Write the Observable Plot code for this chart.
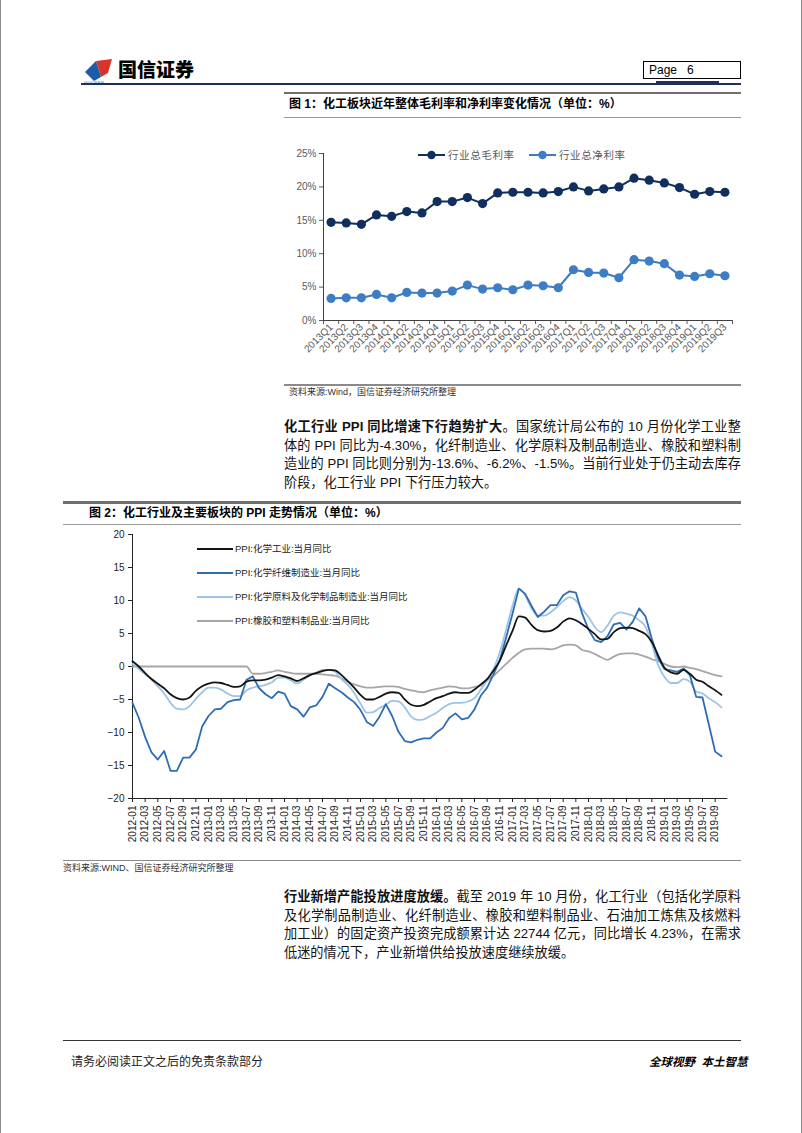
<!DOCTYPE html>
<html><head><meta charset="utf-8">
<script src="https://cdn.jsdelivr.net/npm/d3@7"></script>
<script src="https://cdn.jsdelivr.net/npm/@observablehq/plot@0.6"></script>
<style>
html,body{margin:0;padding:0;background:#fff;}
#page{position:relative;width:802px;height:1133px;overflow:hidden;font-family:"Liberation Sans","Noto Sans CJK SC",sans-serif;color:#000;box-sizing:border-box;border-left:1px solid #8c8c8c;border-right:1px solid #8c8c8c;}
.a{position:absolute;}
.line{position:absolute;height:0;}
.para{position:absolute;left:283px;width:457px;font-size:13.2px;color:#111;}
.para div{white-space:nowrap;text-align:justify;text-align-last:justify;}
.para div.last{text-align:left;text-align-last:left;}
.title{position:absolute;font-size:12px;font-weight:bold;white-space:nowrap;line-height:14px;}
.src{position:absolute;font-size:9px;color:#333;white-space:nowrap;line-height:11px;}
.lg{position:absolute;font-size:9.5px;color:#222;white-space:nowrap;line-height:12px;}
.lgline{position:absolute;height:0;}
</style></head>
<body><div id="page">

<!-- header -->
<svg class="a" style="left:83px;top:58px" width="32" height="26" viewBox="0 0 32 26">
  <polygon points="12,3 28,1 24,15 17,19" fill="#d9342b"/>
  <polygon points="1,14 12,3 17,19 10,23" fill="#1f5aa6"/>
</svg>
<div class="a" style="left:83px;top:80px;font-size:4px;color:#1f5aa6;letter-spacing:0.5px">GUOSEN</div>
<div class="a" style="left:117px;top:60px;font-size:19px;font-weight:900;letter-spacing:0px;line-height:22px">国信证券</div>
<div class="a" style="left:642px;top:61px;width:91px;height:16px;border:1px solid #000;font-size:12px;line-height:16px;padding-left:5px;box-sizing:content-box">Page&nbsp;&nbsp;&nbsp;6</div>
<div class="line" style="left:80px;top:83px;width:660px;border-top:2px solid #1f2f5c"></div>
<div class="line" style="left:655px;top:81px;width:63px;border-top:3px solid #1f2f5c"></div>

<!-- figure 1 -->
<div class="line" style="left:283px;top:92px;width:457px;border-top:2px solid #6f6f6f"></div>
<div class="title" style="left:288px;top:97px">图 1：化工板块近年整体毛利率和净利率变化情况（单位：%）</div>
<div class="line" style="left:283px;top:117px;width:457px;border-top:1px solid #9a9a9a"></div>
<div id="chart1" class="a" style="left:280px;top:140px"></div>
<div id="legend1"></div>
<div class="line" style="left:283px;top:384px;width:457px;border-top:2px solid #8a8a8a"></div>
<div class="src" style="left:288px;top:387px">资料来源:Wind，国信证券经济研究所整理</div>

<div class="para" style="top:418px;line-height:18.6px">
<div><b>化工行业 PPI 同比增速下行趋势扩大</b>。国家统计局公布的 10 月份化学工业整</div>
<div>体的 PPI 同比为-4.30%，化纤制造业、化学原料及制品制造业、橡胶和塑料制</div>
<div>造业的 PPI 同比则分别为-13.6%、-6.2%、-1.5%。当前行业处于仍主动去库存</div>
<div class="last">阶段，化工行业 PPI 下行压力较大。</div>
</div>

<!-- figure 2 -->
<div class="line" style="left:62px;top:501px;width:678px;border-top:3px solid #6f6f6f"></div>
<div class="title" style="left:88px;top:506px">图 2：化工行业及主要板块的 PPI 走势情况（单位：%）</div>
<div class="line" style="left:62px;top:524px;width:678px;border-top:1px solid #9a9a9a"></div>
<div id="chart2" class="a" style="left:62px;top:525px"></div>
<div id="legend2"></div>
<div class="line" style="left:62px;top:860px;width:678px;border-top:1px solid #8a8a8a"></div>
<div class="src" style="left:62px;top:863px">资料来源:WIND、国信证券经济研究所整理</div>

<div class="para" style="top:888px;line-height:18.6px">
<div><b>行业新增产能投放进度放缓。</b>截至 2019 年 10 月份，化工行业（包括化学原料</div>
<div>及化学制品制造业、化纤制造业、橡胶和塑料制品业、石油加工炼焦及核燃料</div>
<div>加工业）的固定资产投资完成额累计达 22744 亿元，同比增长 4.23%，在需求</div>
<div class="last">低迷的情况下，产业新增供给投放速度继续放缓。</div>
</div>

<!-- footer -->
<div class="line" style="left:62px;top:1040px;width:678px;border-top:1px solid #333"></div>
<div class="a" style="left:70px;top:1055px;font-size:12px;color:#222;line-height:14px">请务必阅读正文之后的免责条款部分</div>
<div class="a" style="left:648px;top:1055px;font-size:11.5px;font-weight:bold;font-style:italic;line-height:14px;white-space:nowrap">全球视野&nbsp;&nbsp;本土智慧</div>

</div>
<script>
// ---------- Figure 1 data ----------
const quarters = ["2013Q1","2013Q2","2013Q3","2013Q4","2014Q1","2014Q2","2014Q3","2014Q4","2015Q1","2015Q2","2015Q3","2015Q4","2016Q1","2016Q2","2016Q3","2016Q4","2017Q1","2017Q2","2017Q3","2017Q4","2018Q1","2018Q2","2018Q3","2018Q4","2019Q1","2019Q2","2019Q3"];
const grossMargin = [14.7,14.6,14.4,15.8,15.6,16.3,16.1,17.8,17.8,18.4,17.5,19.1,19.2,19.2,19.1,19.3,20.0,19.4,19.7,20.0,21.3,21.0,20.6,19.9,18.9,19.3,19.2];
const netMargin = [3.3,3.4,3.4,3.9,3.4,4.2,4.1,4.1,4.4,5.3,4.7,4.9,4.6,5.3,5.2,4.9,7.6,7.2,7.1,6.4,9.1,8.9,8.5,6.8,6.6,7.0,6.7];
const yTicks1 = [0,5,10,15,20,25];
const series1Names = ["行业总毛利率","行业总净利率"];
const series1Colors = ["#112f5c","#3c7dc3"];

// ---------- Figure 2 data ----------
const months = d3.utcMonths(new Date(Date.UTC(2012,0,1)), new Date(Date.UTC(2019,10,1))).map(d3.utcFormat("%Y-%m"));
const ppiChem = [0.8,0.0,-1.0,-1.9,-2.6,-3.3,-4.2,-4.8,-5.0,-4.7,
 -3.7,-3.0,-2.6,-2.4,-2.5,-2.8,-3.1,-3.0,-2.3,-2.1,
 -2.1,-2.0,-1.7,-1.3,-1.5,-1.8,-2.2,-1.8,-1.3,-1.0,
 -0.7,-0.5,-0.6,-1.3,-2.2,-3.2,-4.3,-5.0,-5.0,-4.6,
 -4.1,-3.9,-4.0,-5.0,-5.8,-6.0,-5.8,-5.3,-4.8,-4.5,
 -4.1,-3.9,-4.0,-4.0,-3.5,-2.7,-1.9,-0.6,0.9,3.2,
 5.4,7.6,7.4,6.3,5.5,5.3,5.4,5.9,6.8,7.3,
 7.0,6.4,5.7,4.9,4.1,4.2,5.2,5.8,5.9,5.8,
 5.4,4.9,3.7,1.7,-0.2,-0.9,-1.1,-0.5,-1.1,-2.0,
 -2.3,-3.0,-3.6,-4.3];
const ppiFiber = [-5.5,-7.8,-10.7,-13.0,-14.1,-12.8,-15.8,-15.8,-13.8,-13.8,
 -12.6,-9.1,-7.5,-6.5,-6.4,-5.4,-5.1,-5.0,-2.0,-1.5,
 -3.3,-4.2,-4.8,-3.8,-4.1,-6.0,-6.5,-7.6,-6.2,-5.9,
 -4.6,-2.6,-3.3,-3.9,-4.7,-5.4,-6.6,-8.4,-9.0,-7.6,
 -5.7,-7.5,-9.9,-11.3,-11.5,-11.1,-10.9,-10.9,-10.0,-9.3,
 -7.8,-7.1,-8.0,-7.8,-6.5,-4.4,-3.2,-1.2,1.0,4.4,
 8.0,11.8,11.0,9.2,7.5,8.3,9.3,9.3,10.8,11.4,
 11.2,8.0,5.6,4.0,3.7,4.6,6.4,6.6,5.6,6.8,
 8.8,7.6,4.2,1.2,-0.4,-0.6,-0.8,-0.3,-1.3,-4.6,
 -4.7,-8.8,-12.9,-13.6];
const ppiMaterials = [0.4,-0.4,-1.2,-2.0,-3.0,-4.1,-5.5,-6.4,-6.5,-6.0,
 -4.9,-3.9,-3.2,-3.2,-3.5,-4.1,-4.5,-4.5,-3.6,-3.2,
 -3.0,-2.8,-2.4,-1.7,-1.7,-2.1,-2.6,-2.0,-1.4,-0.9,
 -0.5,-0.5,-0.8,-1.9,-2.8,-4.0,-5.6,-7.0,-6.9,-6.3,
 -5.8,-5.2,-5.3,-6.2,-7.6,-8.1,-8.0,-7.5,-7.0,-6.3,
 -5.7,-5.5,-5.5,-5.3,-4.8,-3.5,-2.1,-0.4,2.2,5.6,
 9.2,11.8,10.8,8.8,7.7,7.7,8.2,9.0,9.9,10.5,
 10.0,8.7,7.5,6.0,5.2,6.2,7.7,8.2,8.0,7.7,
 7.0,6.0,3.4,0.2,-1.6,-2.5,-2.5,-1.9,-2.3,-3.8,
 -4.1,-4.8,-5.4,-6.2];
const ppiRubber = [0,0,0,0,0,0,0,0,0,0,
 0,0,0,0,0,0,0,0,0,-1.1,
 -1.1,-1.0,-0.8,-0.6,-0.8,-1.0,-1.1,-1.1,-1.1,-1.1,
 -1.2,-1.3,-1.4,-1.8,-2.3,-2.7,-3.0,-3.2,-3.2,-3.1,
 -3.0,-3.0,-3.1,-3.4,-3.6,-3.8,-3.9,-3.6,-3.4,-3.2,
 -3.0,-3.1,-3.3,-3.3,-3.1,-2.9,-2.1,-1.4,-0.5,0.4,
 1.3,2.1,2.6,2.7,2.7,2.7,2.6,2.8,3.2,3.3,
 3.2,2.5,2.3,1.9,1.4,1.0,1.5,1.9,2.0,2.0,
 1.8,1.5,1.1,0.8,0.4,0.0,-0.1,0.0,-0.2,-0.4,
 -0.7,-1.0,-1.3,-1.5];
const yTicks2 = [-20,-15,-10,-5,0,5,10,15,20];
const series2Names = ["PPI:化学工业:当月同比","PPI:化学纤维制造业:当月同比","PPI:化学原料及化学制品制造业:当月同比","PPI:橡胶和塑料制品业:当月同比"];
const series2Colors = ["#141414","#2e6db3","#9dc3e6","#a6a6a6"];

const FONT = "'Liberation Sans', Arial, 'Noto Sans CJK SC', sans-serif";

// ---------- Figure 1 chart ----------
const gRows = quarters.map((q,i)=>({pos:i+0.5, v:grossMargin[i]}));
const nRows = quarters.map((q,i)=>({pos:i+0.5, v:netMargin[i]}));
const chart1 = Plot.plot({
  width:460, height:230, marginLeft:42, marginRight:9, marginTop:13, marginBottom:50,
  x:{type:"linear", domain:[0, quarters.length], axis:null, label:null},
  y:{domain:[0,25], axis:null, label:null},
  style:{fontFamily:FONT, fontSize:"10px", color:"#595959", background:"transparent", overflow:"visible"},
  marks:[
    Plot.axisY({ticks:yTicks1, tickFormat:d=>d+"%", tickSize:4, tickPadding:3, label:null}),
    Plot.axisX({ticks:d3.range(quarters.length+1), tickSize:4, tickFormat:()=>"", label:null}),
    Plot.axisX({ticks:quarters.map((q,i)=>i+0.5), tickFormat:d=>quarters[Math.floor(d)], tickSize:0, tickRotate:-45, tickPadding:5, fontSize:10, label:null}),
    Plot.ruleX([0], {stroke:"#404040"}),
    Plot.ruleY([0], {stroke:"#404040"}),
    Plot.line(gRows, {x:"pos", y:"v", stroke:series1Colors[0], strokeWidth:2}),
    Plot.dot(gRows, {x:"pos", y:"v", r:4.6, fill:series1Colors[0], stroke:"none"}),
    Plot.line(nRows, {x:"pos", y:"v", stroke:series1Colors[1], strokeWidth:2}),
    Plot.dot(nRows, {x:"pos", y:"v", r:4.6, fill:series1Colors[1], stroke:"none"})
  ]
});
document.getElementById("chart1").appendChild(chart1);

// legend 1
const lg1 = document.getElementById("legend1");
const lg1Pos = [{x:417, tx:447},{x:528, tx:558}];
series1Names.forEach((name,k)=>{
  const p = lg1Pos[k];
  lg1.insertAdjacentHTML("beforeend",
    `<svg class="a" style="left:${p.x}px;top:150px" width="28" height="10"><line x1="0" y1="5" x2="27" y2="5" stroke="${series1Colors[k]}" stroke-width="2"/><circle cx="13.5" cy="5" r="4.2" fill="${series1Colors[k]}"/></svg>` +
    `<div class="a" style="left:${p.tx}px;top:148px;font-size:10.5px;color:#595959;letter-spacing:0.6px;line-height:14px;white-space:nowrap">${name}</div>`);
});

// ---------- Figure 2 chart ----------
const seriesData = [ppiChem, ppiFiber, ppiMaterials, ppiRubber];
const rows2 = seriesData.map(arr => arr.map((v,i)=>({i, v})));
const chart2 = Plot.plot({
  width:680, height:330, marginLeft:69, marginRight:22, marginTop:9, marginBottom:57,
  x:{type:"linear", domain:[0, months.length-1], axis:null, label:null},
  y:{domain:[-20,20], axis:null, label:null},
  style:{fontFamily:FONT, fontSize:"10px", color:"#222", background:"transparent", overflow:"visible"},
  marks:[
    Plot.axisY({ticks:yTicks2, tickSize:4, tickPadding:4, label:null}),
    Plot.axisX({ticks:d3.range(0, months.length, 2), tickFormat:i=>months[i], tickSize:4, tickRotate:-90, tickPadding:3, fontSize:10, label:null}),
    Plot.ruleX([0], {stroke:"#222"}),
    Plot.ruleY([-20], {x1:0, x2:months.length, stroke:"#222"}),
    Plot.line(rows2[3], {x:"i", y:"v", stroke:series2Colors[3], strokeWidth:1.8, curve:"monotone-x"}),
    Plot.line(rows2[2], {x:"i", y:"v", stroke:series2Colors[2], strokeWidth:1.8, curve:"monotone-x"}),
    Plot.line(rows2[1], {x:"i", y:"v", stroke:series2Colors[1], strokeWidth:1.8}),
    Plot.line(rows2[0], {x:"i", y:"v", stroke:series2Colors[0], strokeWidth:1.8, curve:"monotone-x"})
  ]
});
document.getElementById("chart2").appendChild(chart2);

// legend 2
const lg2 = document.getElementById("legend2");
const lg2Y = [549, 572.7, 596.7, 620.7];
series2Names.forEach((name,k)=>{
  lg2.insertAdjacentHTML("beforeend",
    `<div class="lgline" style="left:196px;top:${lg2Y[k]-1}px;width:36px;border-top:2px solid ${series2Colors[k]}"></div>` +
    `<div class="lg" style="left:234px;top:${lg2Y[k]-6}px">${name}</div>`);
});
</script>
</body></html>
